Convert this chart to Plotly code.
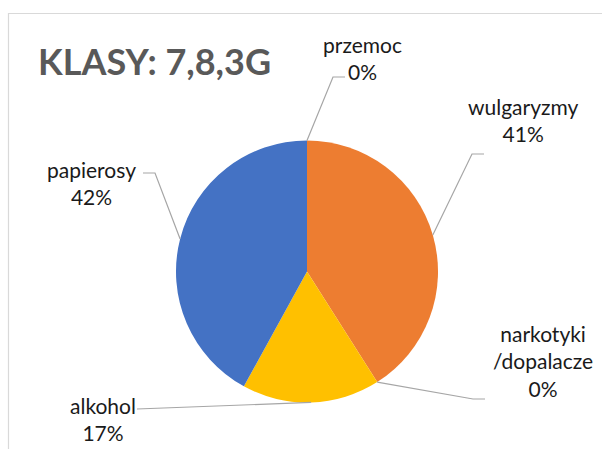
import math
import plotly.graph_objects as go

# Slices in clockwise order starting at 12 o'clock
categories = ["przemoc", "wulgaryzmy", "narkotyki<br>/dopalacze", "alkohol", "papierosy"]
values = [0, 41, 0, 17, 42]
colors = ["#5B9BD5", "#ED7D31", "#A5A5A5", "#FFC000", "#4472C4"]

W, H = 602, 449
CX, CY, R = 307, 271.5, 131  # pie centre and radius in pixels (top-left origin)

fig = go.Figure(go.Pie(
    labels=categories,
    values=values,
    sort=False,
    direction="clockwise",
    rotation=0,
    marker=dict(colors=colors, line=dict(width=0)),
    textinfo="none",
    hoverinfo="label+percent",
    showlegend=False,
    domain=dict(x=[(CX - R) / W, (CX + R) / W],
                y=[(H - CY - R) / H, (H - CY + R) / H]),
))


def px(x, y):
    return x / W, 1 - y / H


# Edge point of each slice (mid-angle) derived from the values
total = sum(values)
edge = []
cum = 0
for v in values:
    mid = (cum + v / 2) / total * 2 * math.pi
    edge.append((CX + R * math.sin(mid), CY - R * math.cos(mid)))
    cum += v

pct = [f"{round(v / total * 100)}%" for v in values]

# label text block centre and leader-line route (elbow points) in pixels
label_pos = [(362, 58), (523, 120), (543, 361), (103, 419), (91, 183)]
routes = [
    [(333, 77), (345, 77)],
    [(472, 154), (484, 154)],
    [(473, 399), (485, 399)],
    [(137, 409)],
    [(155, 173), (143, 173)],
]

shapes = []
for (ex, ey), route in zip(edge, routes):
    pts = [(ex, ey)] + route
    path = ""
    for i, (x, y) in enumerate(pts):
        fx, fy = px(x, y)
        path += ("M" if i == 0 else "L") + f"{fx},{fy} "
    shapes.append(dict(type="path", path=path.strip(), xref="paper", yref="paper",
                       line=dict(color="#A6A6A6", width=1.2)))

# chart area border
shapes.append(dict(type="path", xref="paper", yref="paper",
                   path=f"M{8.5/W},0 L{8.5/W},{1-13.5/H} L1,{1-13.5/H}",
                   line=dict(color="#D9D9D9", width=1.2)))

annotations = []
for name, p, (lx, ly) in zip(categories, pct, label_pos):
    fx, fy = px(lx, ly)
    annotations.append(dict(text=f"{name}<br>{p}", x=fx, y=fy, xref="paper", yref="paper",
                            showarrow=False, xanchor="center", yanchor="middle",
                            align="center",
                            font=dict(family="Lato", size=21, color="#1A1A1A")))

fx, fy = px(36, 61)
annotations.append(dict(text="<b>KLASY: 7,8,3G</b>", x=fx, y=fy, xref="paper", yref="paper",
                        showarrow=False, xanchor="left", yanchor="middle",
                        font=dict(family="Lato", size=36, color="#595959")))

fig.update_layout(
    width=W, height=H,
    margin=dict(l=0, r=0, t=0, b=0),
    paper_bgcolor="white",
    plot_bgcolor="white",
    shapes=shapes,
    annotations=annotations,
)

fig.write_html("out.html")
